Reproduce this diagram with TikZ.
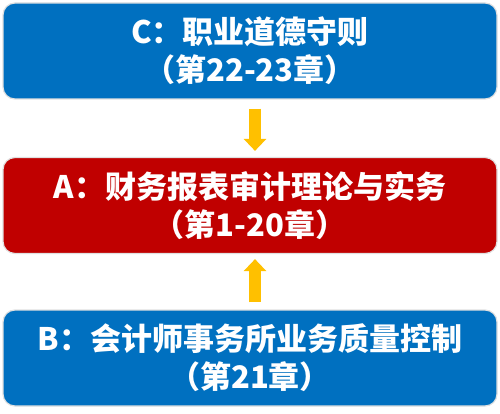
\documentclass[tikz,border=0pt]{standalone}
\usepackage{fontspec}
\newfontfamily\cjk{Noto Sans CJK SC}
\usetikzlibrary{arrows.meta}
\definecolor{boxblue}{HTML}{0070C0}
\definecolor{boxred}{HTML}{C00000}
\definecolor{arrowyellow}{HTML}{FFC000}
\tikzset{
  chapbox/.style={rectangle, rounded corners=12pt, minimum width=494pt, minimum height=96pt,
    draw=black!12, line width=1.2pt, text=white, align=center, inner sep=0pt,
    font=\cjk\bfseries\fontsize{31}{38}\selectfont},
  bigarrow/.style={draw=arrowyellow, line width=12pt, -{Triangle[width=22pt,length=12pt]}}
}
\begin{document}
\begin{tikzpicture}[x=1pt,y=-1pt]
\useasboundingbox (0,0) rectangle (500,414);
\node[chapbox, fill=boxblue] (C) at (250,51) {\raisebox{-5pt}{\parbox{480pt}{\centering C：职业道德守则\\（第22-23章）}}};
\node[chapbox, fill=boxred] (A) at (250,205.5) {\raisebox{-5pt}{\parbox{480pt}{\centering A：财务报表审计理论与实务\\（第1-20章）}}};
\node[chapbox, fill=boxblue] (B) at (250,358) {\raisebox{-5pt}{\parbox{480pt}{\centering B：会计师事务所业务质量控制\\（第21章）}}};
\draw[bigarrow] ([xshift=5pt,yshift=-9pt]C.south) -- ([xshift=5pt,yshift=6pt]A.north);
\draw[bigarrow] ([xshift=5pt,yshift=7pt]B.north) -- ([xshift=5pt,yshift=-5pt]A.south);
\end{tikzpicture}
\end{document}
